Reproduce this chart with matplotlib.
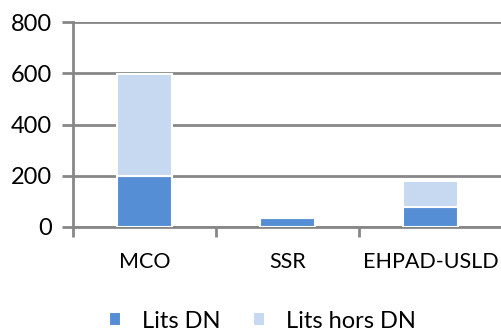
import matplotlib.pyplot as plt
from matplotlib.ticker import FixedLocator

categories = ["MCO", "SSR", "EHPAD-USLD"]
lits_dn = [198, 37, 78]
lits_hors_dn = [400, 0, 102]
series_names = ["Lits DN", "Lits hors DN"]
y_ticks = [0, 200, 400, 600, 800]

plt.rcParams["font.family"] = ["Lato", "DejaVu Sans"]

grid_col = "#878787"
fig = plt.figure(figsize=(5.02, 3.31), dpi=100)
ax = fig.add_axes([0.1454, 0.3142, 0.8546, 0.6193])

x = range(len(categories))
ax.bar(x, lits_dn, width=0.39, color="#558ED5", edgecolor="white",
       linewidth=1.5, zorder=3, label=series_names[0])
ax.bar(x, lits_hors_dn, width=0.39, bottom=lits_dn, color="#C6D9F1",
       edgecolor="white", linewidth=1.5, zorder=3, label=series_names[1])

ax.set_xlim(-0.5, 2.5)
ax.set_ylim(0, 800)
ax.set_yticks(y_ticks)
ax.set_xticks(list(x))
ax.set_xticklabels(categories)
ax.xaxis.set_minor_locator(FixedLocator([-0.5, 0.5, 1.5, 2.5]))

ax.grid(axis="y", color=grid_col, linewidth=2, zorder=0)
ax.set_axisbelow(True)
for side in ["top", "right"]:
    ax.spines[side].set_visible(False)
for side in ["left", "bottom"]:
    ax.spines[side].set_color(grid_col)
    ax.spines[side].set_linewidth(2)

ax.tick_params(axis="y", length=8, width=2, color=grid_col, labelsize=17, pad=7)
ax.tick_params(axis="x", which="major", length=0, labelsize=15.5, pad=18)
ax.tick_params(axis="x", which="minor", length=7, width=2, color=grid_col)

fig.legend(loc="center", bbox_to_anchor=(0.523, 0.03), ncol=2, frameon=False,
           fontsize=17, handlelength=0.5, handleheight=0.5, handletextpad=0.9,
           columnspacing=1.4)

fig.savefig("out.png", dpi=100)
